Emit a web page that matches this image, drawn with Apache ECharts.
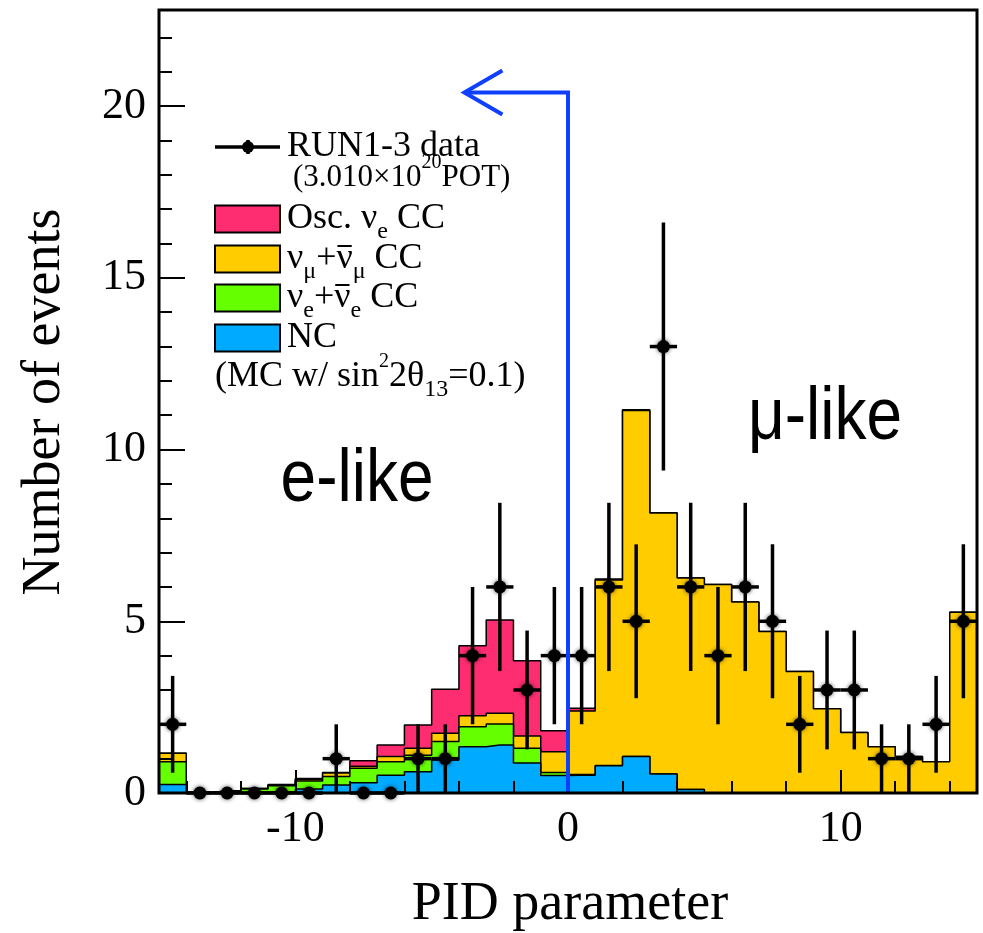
<!DOCTYPE html>
<html>
<head>
<meta charset="utf-8">
<script src="https://cdn.jsdelivr.net/npm/echarts@6/dist/echarts.min.js"></script>
<style>
  html, body { margin: 0; padding: 0; background: #ffffff; }
  #chart { width: 983px; height: 933px; }
</style>
</head>
<body>
<div id="chart"></div>
<script>
// PID parameter bins (width 1, from -15 to 15)
const binCenters = [-14.5, -13.5, -12.5, -11.5, -10.5, -9.5, -8.5, -7.5, -6.5, -5.5,
                    -4.5, -3.5, -2.5, -1.5, -0.5, 0.5, 1.5, 2.5, 3.5, 4.5,
                    5.5, 6.5, 7.5, 8.5, 9.5, 10.5, 11.5, 12.5, 13.5, 14.5];
const binWidth = 1;

// MC expectation per component (stacked bottom to top)
const ncEvents = [0.25, 0, 0, 0.02, 0.03, 0.12, 0.23, 0.30, 0.52, 0.62,
                  0.96, 1.35, 1.40, 0.87, 0.51, 0.52, 0.79, 1.06, 0.55, 0.10,
                  0, 0, 0, 0, 0, 0, 0, 0, 0, 0];
const nueBeamCC = [0.66, 0.02, 0.06, 0.10, 0.18, 0.23, 0.25, 0.42, 0.39, 0.48,
                   0.54, 0.58, 0.61, 0.43, 0.09, 0.02, 0.01, 0, 0, 0,
                   0, 0, 0, 0, 0, 0, 0, 0, 0, 0];
const numuCC = [0.25, 0, 0, 0.01, 0.02, 0.04, 0.10, 0.06, 0.15, 0.20,
                0.24, 0.32, 0.31, 0.36, 0.60, 1.85, 5.40, 10.08, 7.60, 6.16,
                6.07, 5.56, 4.70, 3.54, 2.45, 1.76, 1.35, 1.06, 0.91, 5.26];
const oscNueCC = [0, 0, 0, 0, 0.02, 0.03, 0.02, 0.16, 0.34, 0.68,
                  1.28, 2.04, 2.72, 2.19, 0.61, 0.08, 0.03, 0.02, 0.01, 0,
                  0, 0, 0, 0, 0, 0, 0, 0, 0, 0];

// RUN1-3 data counts and their statistical errors
const dataCounts = [2, 0, 0, 0, 0, 0, 1, 0, 0, 1,
                    1, 4, 6, 3, 4, 4, 6, 5, 13, 6,
                    4, 6, 5, 2, 3, 3, 1, 1, 2, 5];
const dataErrors = [1.41, 0, 0, 0, 0, 0, 1, 0, 0, 1,
                    1, 2, 2.45, 1.73, 2, 2, 2.45, 2.24, 3.61, 2.45,
                    2, 2.45, 2.24, 1.41, 1.73, 1.73, 1, 1, 1.41, 2.24];

// Axis ticks and labels
const xRange = [-15, 15];
const yRange = [0, 22.8];
const xTickLabels = [-10, 0, 10];
const xMinorTicks = [-14, -12, -10, -8, -6, -4, -2, 0, 2, 4, 6, 8, 10, 12, 14];
const yTickLabels = [0, 5, 10, 15, 20];
const yMinorTicks = [1, 2, 3, 4, 6, 7, 8, 9, 11, 12, 13, 14, 16, 17, 18, 19, 21, 22];

// Selection cut annotation (e-like side of PID = 0)
const pidCut = 0;
const arrowLevel = 20.4;
const arrowTipX = -3.8;

const SERIF = 'Liberation Serif';
const SANS = 'Liberation Sans';
const COLORS = { osc: '#fe2c70', numu: '#ffcc00', nue: '#66ff00', nc: '#00aaff', cut: '#1040ff' };

const chart = echarts.init(document.getElementById('chart'), null, { renderer: 'canvas' });

// Running totals of the stack, bottom component first
const layers = [ncEvents, nueBeamCC, numuCC, oscNueCC];
const cumulative = [];
layers.forEach((vals, k) => {
  cumulative.push(vals.map((v, i) => v + (k ? cumulative[k - 1][i] : 0)));
});

// Step outline points: bin centres plus the two outer edges
function stepData(vals) {
  const pts = [[xRange[0], vals[0]]];
  binCenters.forEach((c, i) => pts.push([c, vals[i]]));
  pts.push([xRange[1], vals[vals.length - 1]]);
  return pts;
}

// Each histogram is filled from zero; lower components are drawn on top
function layer(name, vals, color, z) {
  return {
    type: 'line', name, data: stepData(vals), step: 'middle',
    symbol: 'none', z, silent: true, animation: false,
    lineStyle: { color: '#000', width: 1.5 },
    areaStyle: { color, opacity: 1, origin: 'start' }
  };
}

const axisCommon = {
  type: 'value', z: 10, splitLine: { show: false },
  axisLine: { show: false, onZero: false }
};

chart.setOption({
  animation: false,
  backgroundColor: '#ffffff',
  grid: { left: 159, right: 6, top: 10, bottom: 140, outerBoundsMode: 'none' },
  xAxis: [
    Object.assign({}, axisCommon, {
      min: xRange[0], max: xRange[1], position: 'bottom',
      axisTick: { show: true, inside: true, length: 12, customValues: xMinorTicks,
                  lineStyle: { color: '#000', width: 2 } },
      axisLabel: { customValues: xTickLabels, margin: 14, fontFamily: SERIF,
                   fontSize: 44, color: '#000' }
    }),
    Object.assign({}, axisCommon, {
      min: xRange[0], max: xRange[1], position: 'bottom',
      axisTick: { show: true, inside: true, length: 23, customValues: xTickLabels,
                  lineStyle: { color: '#000', width: 2 } },
      axisLabel: { show: false }
    })
  ],
  yAxis: [
    Object.assign({}, axisCommon, {
      min: yRange[0], max: yRange[1], position: 'left',
      axisTick: { show: true, inside: true, length: 26, customValues: yTickLabels,
                  lineStyle: { color: '#000', width: 2 } },
      axisLabel: { customValues: yTickLabels, margin: 13, fontFamily: SERIF,
                   fontSize: 44, color: '#000' }
    }),
    Object.assign({}, axisCommon, {
      min: yRange[0], max: yRange[1], position: 'left',
      axisTick: { show: true, inside: true, length: 13, customValues: yMinorTicks,
                  lineStyle: { color: '#000', width: 2 } },
      axisLabel: { show: false }
    })
  ],
  series: [
    layer('Osc. nue CC', cumulative[3], COLORS.osc, 3),
    layer('numu+numubar CC', cumulative[2], COLORS.numu, 4),
    layer('nue+nuebar CC', cumulative[1], COLORS.nue, 5),
    layer('NC', cumulative[0], COLORS.nc, 6),
    {
      type: 'custom', name: 'RUN1-3 data', z: 8, clip: false, silent: true,
      data: binCenters.map((c, i) => [c, dataCounts[i], dataErrors[i]]),
      encode: { x: 0, y: 1 },
      renderItem(params, api) {
        const x = api.value(0), n = api.value(1), e = api.value(2);
        const c = api.coord([x, n]);
        const l = api.coord([x - binWidth / 2, n]);
        const r = api.coord([x + binWidth / 2, n]);
        const ls = { stroke: '#000', lineWidth: 3.5 };
        const children = [
          { type: 'line', shape: { x1: l[0], y1: l[1], x2: r[0], y2: r[1] }, style: ls }
        ];
        if (e > 0) {
          const lo = api.coord([x, n - e]), hi = api.coord([x, n + e]);
          children.push({ type: 'line', shape: { x1: lo[0], y1: lo[1], x2: hi[0], y2: hi[1] }, style: ls });
        }
        children.push({ type: 'circle', shape: { cx: c[0], cy: c[1], r: 6.5 },
          style: { fill: '#000', shadowBlur: 4, shadowColor: 'rgba(0,0,0,0.7)' } });
        return { type: 'group', children };
      }
    }
  ]
});

// Overlay: frame, cut arrow, legend and labels
const toPx = v => chart.convertToPixel({ xAxisIndex: 0, yAxisIndex: 0 }, v);
const base = toPx([pidCut, yRange[0]]);
const corner = toPx([pidCut, arrowLevel]);
const tip = toPx([arrowTipX, arrowLevel]);
const frameTL = toPx([xRange[0], yRange[1]]);
const frameBR = toPx([xRange[1], yRange[0]]);

const rich = {
  m: { fontFamily: SERIF, fontSize: 36, lineHeight: 50, verticalAlign: 'middle', fill: '#000', color: '#000' },
  s: { fontFamily: SERIF, fontSize: 31, lineHeight: 50, verticalAlign: 'middle', fill: '#000', color: '#000' },
  sub: { fontFamily: SERIF, fontSize: 24, lineHeight: 24, verticalAlign: 'bottom', fill: '#000', color: '#000' },
  sup: { fontFamily: SERIF, fontSize: 20, lineHeight: 34, verticalAlign: 'top', fill: '#000', color: '#000' }
};

// Text widths for placing the antineutrino bars
const measureCtx = document.createElement('canvas').getContext('2d');
function textWidth(str, size) {
  measureCtx.font = size + 'px "' + SERIF + '"';
  return measureCtx.measureText(str).width;
}

function legendText(x, y, text) {
  return { type: 'text', x, y, z: 30,
    style: { text, rich, align: 'left', textAlign: 'left', verticalAlign: 'middle',
             textVerticalAlign: 'middle', fill: '#000' } };
}
function legendBox(y, color) {
  return { type: 'rect', z: 30, shape: { x: 215, y: y - 13.5, width: 65, height: 27 },
           style: { fill: color, stroke: '#000', lineWidth: 2 } };
}
// Bar over the second ν of "ν_f + ν̄_f"
function antiBar(x, y, flavour) {
  const x0 = x + textWidth('ν', 36) + textWidth(flavour, 24) + textWidth('+', 36);
  const w = textWidth('ν', 36);
  return { type: 'line', z: 30, shape: { x1: x0 + 1, y1: y - 13, x2: x0 + w - 1, y2: y - 13 },
           style: { stroke: '#000', lineWidth: 2 } };
}

const cutStyle = { stroke: COLORS.cut, lineWidth: 4, fill: null, lineJoin: 'miter' };

chart.setOption({
  graphic: [
    { type: 'rect', z: 50, silent: true,
      shape: { x: frameTL[0], y: frameTL[1], width: frameBR[0] - frameTL[0], height: frameBR[1] - frameTL[1] },
      style: { fill: null, stroke: '#000', lineWidth: 3 } },
    { type: 'polyline', z: 40, shape: { points: [base, corner, tip] }, style: cutStyle },
    { type: 'polyline', z: 40,
      shape: { points: [[tip[0] + 38, tip[1] - 22], tip, [tip[0] + 38, tip[1] + 22]] },
      style: cutStyle },

    // legend: data entry
    { type: 'line', z: 30, shape: { x1: 215, y1: 147, x2: 280, y2: 147 }, style: { stroke: '#000', lineWidth: 3.5 } },
    { type: 'line', z: 30, shape: { x1: 248, y1: 140, x2: 248, y2: 154 }, style: { stroke: '#000', lineWidth: 3.5 } },
    { type: 'circle', z: 30, shape: { cx: 248, cy: 147, r: 6 }, style: { fill: '#000' } },
    legendText(287, 147, '{m|RUN1-3 data}'),
    legendText(293, 178, '{s|(3.010×10}{sup|20}{s|POT)}'),
    legendBox(219, COLORS.osc),
    legendText(287, 219, '{m|Osc. ν}{sub|e}{m| CC}'),
    legendBox(259, COLORS.numu),
    legendText(287, 259, '{m|ν}{sub|μ}{m|+ν}{sub|μ}{m| CC}'),
    antiBar(287, 259, 'μ'),
    legendBox(298, COLORS.nue),
    legendText(287, 298, '{m|ν}{sub|e}{m|+ν}{sub|e}{m| CC}'),
    antiBar(287, 298, 'e'),
    legendBox(338, COLORS.nc),
    legendText(287, 338, '{m|NC}'),
    legendText(215, 377, '{m|(MC w/ sin}{sup|2}{m|2θ}{sub|13}{m|=0.1)}'),

    // sample labels
    { type: 'text', x: 357, y: 481, scaleY: 1.15, z: 30,
      style: { text: 'e-like', fontFamily: SANS, fontSize: 64, fill: '#000',
               align: 'center', textAlign: 'center', verticalAlign: 'middle', textVerticalAlign: 'middle' } },
    { type: 'text', x: 825, y: 419, scaleY: 1.15, z: 30,
      style: { text: 'μ-like', fontFamily: SANS, fontSize: 64, fill: '#000',
               align: 'center', textAlign: 'center', verticalAlign: 'middle', textVerticalAlign: 'middle' } },

    // axis titles
    { type: 'text', x: 570, y: 905, z: 30,
      style: { text: 'PID parameter', fontFamily: SERIF, fontSize: 54, fill: '#000',
               align: 'center', textAlign: 'center', verticalAlign: 'middle', textVerticalAlign: 'middle' } },
    { type: 'text', x: 45, y: 402, rotation: Math.PI / 2, z: 30,
      style: { text: 'Number of events', fontFamily: SERIF, fontSize: 54, fill: '#000',
               align: 'center', textAlign: 'center', verticalAlign: 'middle', textVerticalAlign: 'middle' } }
  ]
});
</script>
</body>
</html>
